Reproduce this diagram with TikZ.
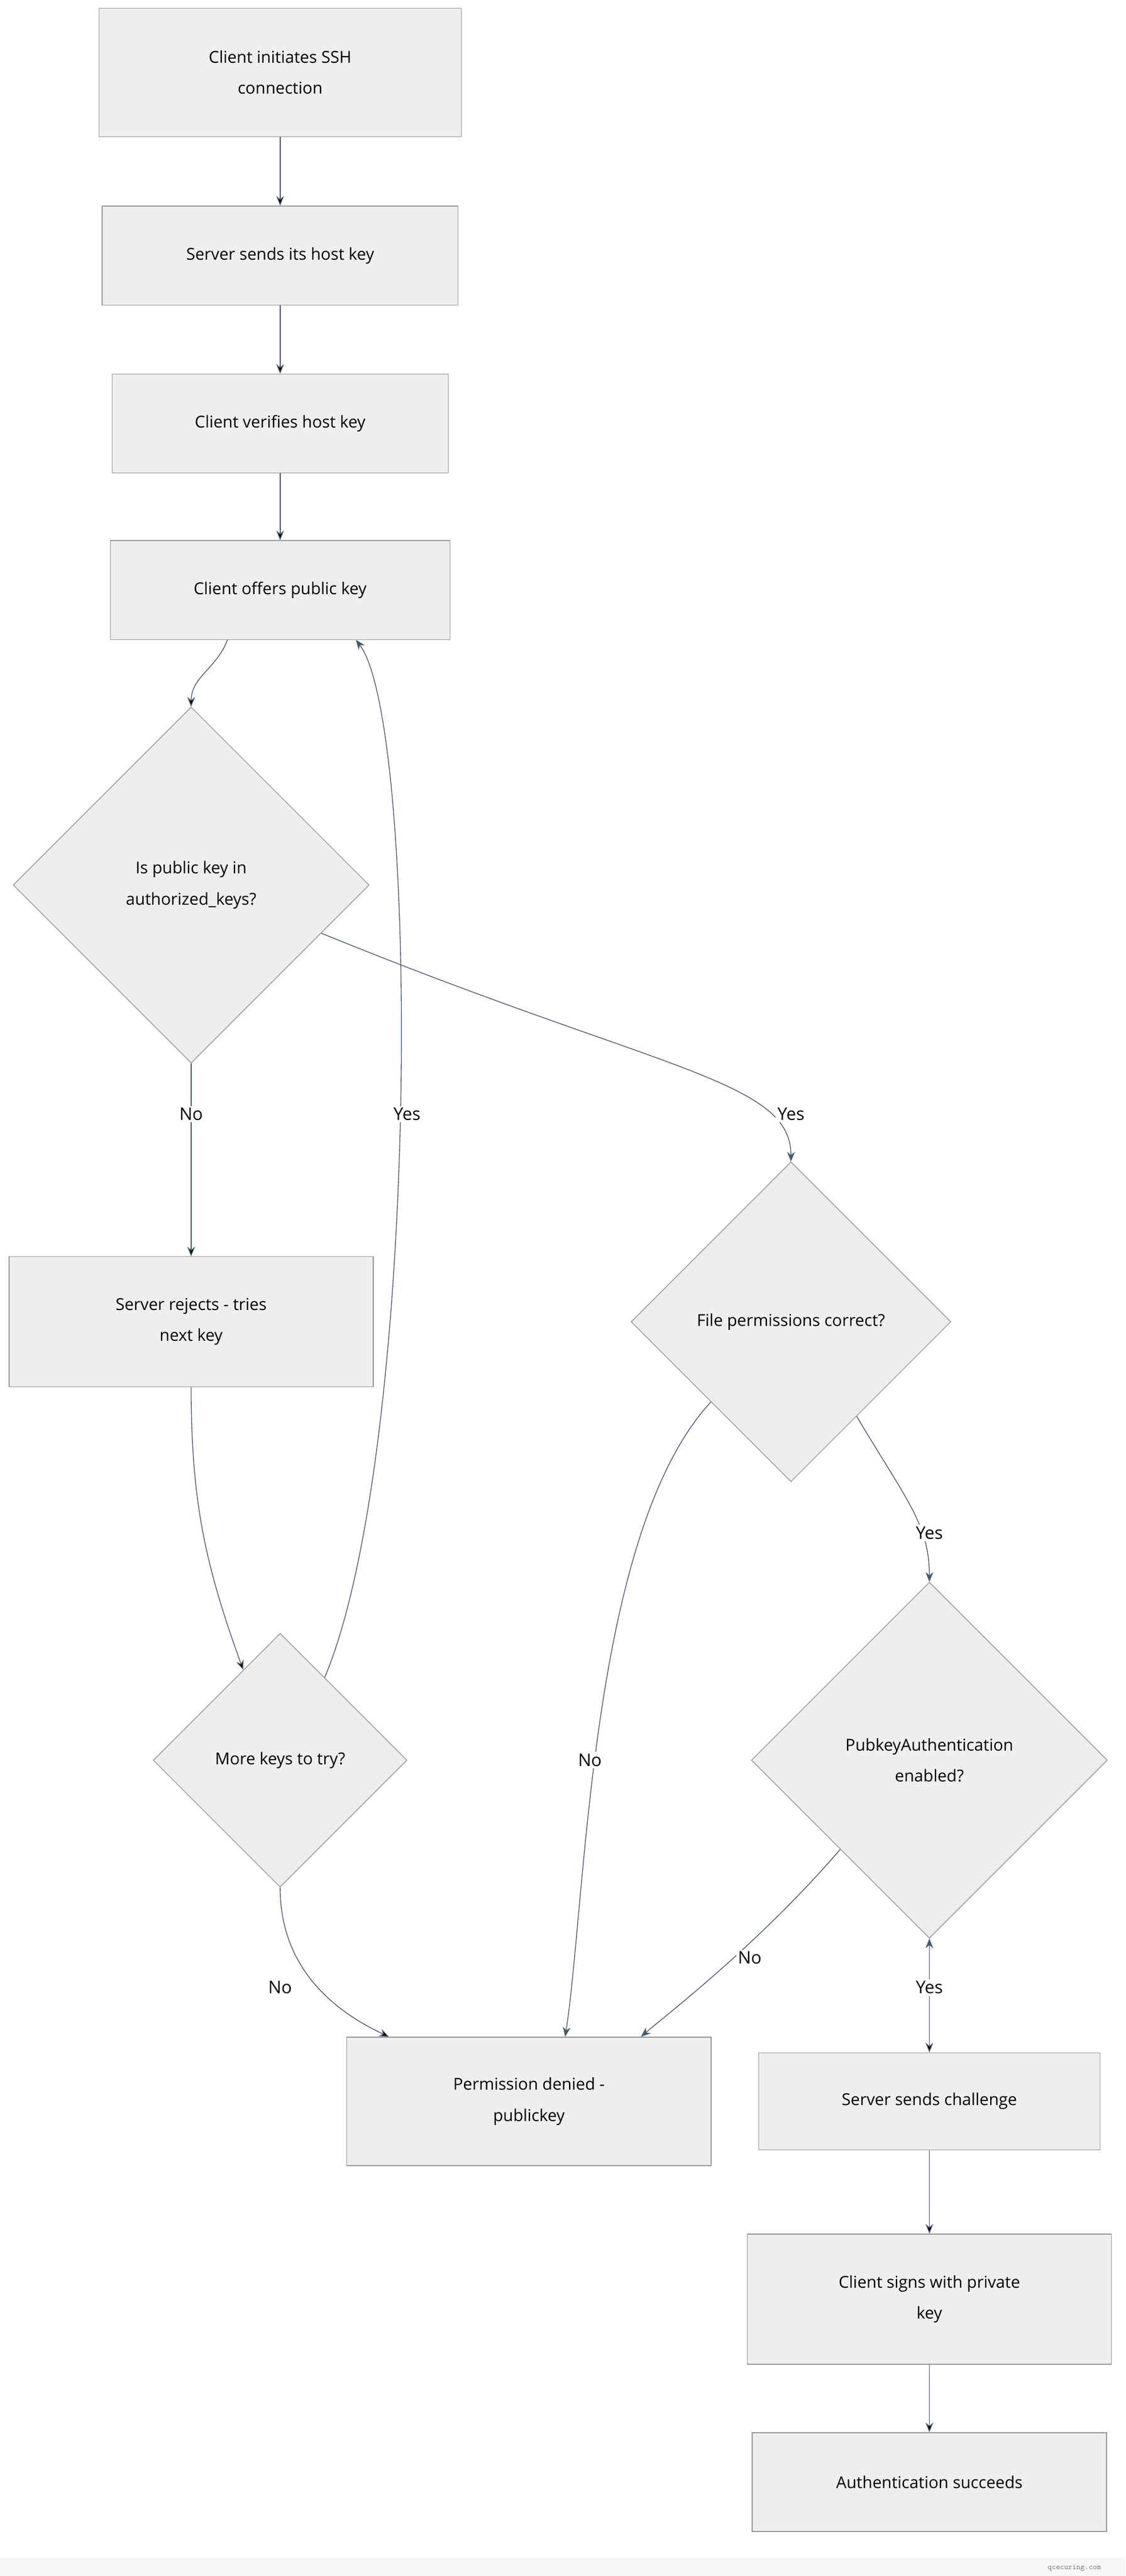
\documentclass[tikz,border=0pt]{standalone}
\usepackage{fontspec}
\setmainfont{Open Sans}
\usepackage{tikz}
\usetikzlibrary{shapes.geometric,arrows.meta,calc}
\definecolor{boxfill}{HTML}{EEEEEE}
\definecolor{boxline}{HTML}{999999}
\definecolor{arrowcol}{HTML}{4A5A70}
\definecolor{footfill}{HTML}{F6F7F9}

\begin{document}
\begin{tikzpicture}[x=0.03cm,y=0.03cm,
    font=\fontsize{8.5}{16}\selectfont,
    box/.style={rectangle,draw=boxline,fill=boxfill,align=center,inner sep=0pt},
    dec/.style={diamond,draw=boxline,fill=boxfill,align=center,inner sep=0pt,aspect=1},
    lbl/.style={fill=white,inner sep=1pt,font=\fontsize{9}{11}\selectfont},
    flow/.style={draw=arrowcol,-{Stealth[length=5pt,width=4pt]}}]
        \useasboundingbox (0,0) rectangle (683,-1563);
        \fill[footfill] (0,-1552) rectangle (683,-1563);
        \node[font=\ttfamily\fontsize{4}{5}\selectfont,text=gray] (foot) at (652,-1558) {qcecuring.com};

        \node[box,minimum width=6.6cm,minimum height=2.34cm] at (170,-44) (init) {Client initiates SSH\\connection};
        \node[box,minimum width=6.48cm,minimum height=1.8cm] at (170,-155) (host) {Server sends its host key};
        \node[box,minimum width=6.12cm,minimum height=1.8cm] at (170,-257) (verify) {Client verifies host key};
        \node[box,minimum width=6.18cm,minimum height=1.8cm] at (170,-358) (offer) {Client offers public key};

        \node[dec,minimum width=6.48cm,minimum height=6.48cm] at (116,-537) (inkeys) {Is public key in\\authorized\_keys?};
        \node[box,minimum width=6.63cm,minimum height=2.37cm] at (116,-802) (reject) {Server rejects - tries\\next key};
        \node[dec,minimum width=4.62cm,minimum height=4.62cm] at (170,-1068) (more) {More keys to try?};
        \node[dec,minimum width=5.82cm,minimum height=5.82cm] at (480,-802) (perms) {File permissions correct?};
        \node[dec,minimum width=6.48cm,minimum height=6.48cm] at (564,-1068) (pubauth) {PubkeyAuthentication\\enabled?};

        \node[box,minimum width=6.63cm,minimum height=2.34cm] at (321,-1275) (denied) {Permission denied -\\publickey};
        \node[box,minimum width=6.21cm,minimum height=1.77cm] at (564,-1275) (chall) {Server sends challenge};
        \node[box,minimum width=6.63cm,minimum height=2.37cm] at (564,-1395) (sign) {Client signs with private\\key};
        \node[box,minimum width=6.45cm,minimum height=1.8cm] at (564,-1506) (success) {Authentication succeeds};

        \path[flow]
        (init) edge (host)
        (host) edge (verify)
        (verify) edge (offer)
        ([xshift=-0.96cm]offer.south) edge [out=-110,in=90] (inkeys.north)
        (inkeys.south) edge (reject.north)
        (reject.south) edge [out=-90,in=110] ($(more.north)!0.29!(more.west)$)
        (more.south) edge [out=-90,in=155] ([xshift=-2.55cm]denied.north)
        (pubauth.south) edge (chall.north)
        (chall) edge (sign)
        (sign) edge (success)
        ;
        \draw[flow] ($(more.north)!0.35!(more.east)$) .. controls (255,-880) and (255,-440) .. ([xshift=1.38cm]offer.south);
        \draw[flow] ($(inkeys.east)!0.27!(inkeys.south)$) .. controls (400,-650) and (480,-655) .. (perms.north);
        \draw[flow] (perms.south west) .. controls (358,-930) and (356,-1150) .. ([xshift=0.66cm]denied.north);
        \draw[flow] ($(perms.east)!0.59!(perms.south)$) .. controls (550,-910) and (564,-925) .. (pubauth.north);
        \draw[flow] (pubauth.south west) .. controls (460,-1180) and (405,-1222) .. ([xshift=2.04cm]denied.north);

        \node[lbl] (noa) at (116,-676) {No};
        \node[lbl] (yesa) at (247,-676) {Yes};
        \node[lbl] (yesb) at (480,-676) {Yes};
        \node[lbl] (nob) at (358,-1068) {No};
        \node[lbl] (yesc) at (564,-930) {Yes};
        \node[lbl] (noc) at (170,-1206) {No};
        \node[lbl] (nod) at (455,-1188) {No};
        \node[lbl] (yesd) at (564,-1206) {Yes};
\end{tikzpicture}
\end{document}
